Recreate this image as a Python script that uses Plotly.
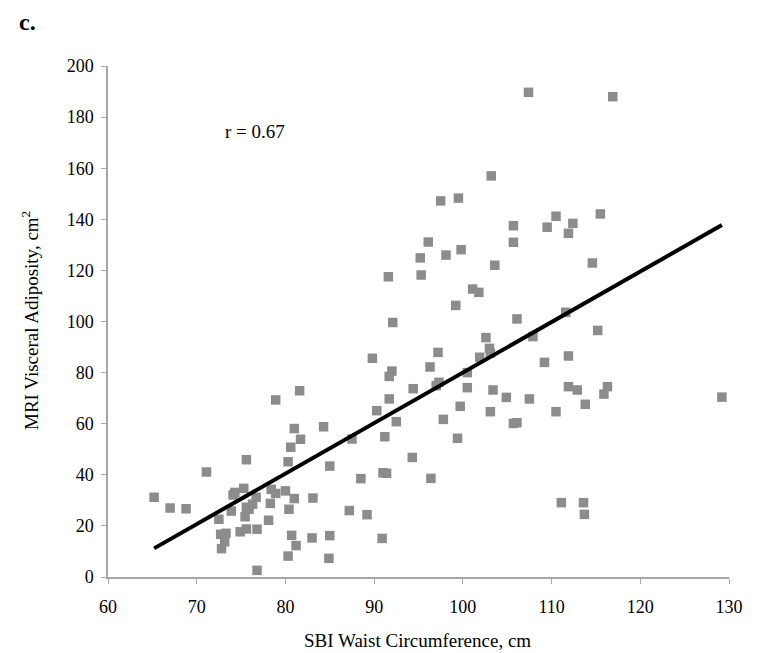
import numpy as np
import plotly.graph_objects as go

# SBI waist circumference (cm) and MRI visceral adiposity (cm^2)
waist = [
    65.2, 67.0, 68.8, 71.1, 75.6, 78.9, 81.6, 84.3, 81.0, 81.7,
    80.6, 80.3, 85.0, 74.1, 74.3, 75.3, 76.7, 76.3, 75.6, 75.9,
    75.45, 73.9, 72.5, 78.4, 78.9, 78.3, 80.0, 81.0, 83.1, 80.4,
    78.1, 76.8, 75.6, 74.9, 73.3, 72.7, 73.15, 72.8, 80.7, 83.0,
    81.2, 80.3, 76.8, 85.0, 84.9,
    94.4, 97.0, 100.5, 103.4, 91.7, 90.3, 92.5, 99.7, 103.1, 97.8,
    87.5, 91.2, 99.4, 94.3, 88.5, 91.0, 91.4, 96.4, 87.2, 89.2, 90.9,
    103.2, 97.5, 99.5, 105.7, 105.7, 96.1, 95.2, 98.1, 99.8, 103.6,
    91.6, 95.3, 101.1, 101.8, 99.2, 92.1, 106.1, 102.6, 103.0, 103.1,
    101.9, 97.2, 89.8, 96.3, 92.0, 91.7, 100.5, 97.3,
    104.9, 107.5, 105.7, 106.1, 110.5, 111.9, 112.9, 113.8, 116.3, 115.9,
    129.2, 111.1, 113.6, 113.7,
    107.4, 116.9, 110.5, 109.5, 112.4, 111.9, 115.5, 114.6, 111.6, 107.9,
    115.2, 109.2, 111.9,
]
vat = [
    31.2, 27.0, 26.7, 41.1, 45.9, 69.3, 72.9, 58.8, 58.1, 53.9,
    50.8, 45.1, 43.4, 32.1, 33.1, 34.7, 31.2, 28.5, 27.3, 26.5,
    23.6, 25.8, 22.6, 34.3, 32.7, 28.8, 33.7, 30.7, 30.9, 26.5,
    22.2, 18.7, 18.8, 17.7, 17.1, 16.7, 13.8, 11.1, 16.3, 15.3,
    12.3, 8.2, 2.6, 16.2, 7.3,
    73.7, 74.9, 74.1, 73.2, 69.7, 65.1, 60.8, 66.8, 64.7, 61.7,
    54.0, 54.9, 54.3, 46.8, 38.5, 40.8, 40.6, 38.6, 26.0, 24.4, 15.1,
    157.0, 147.2, 148.3, 137.5, 131.0, 131.1, 124.9, 126.0, 128.1, 122.0,
    117.5, 118.2, 112.7, 111.4, 106.3, 99.6, 101.0, 93.7, 89.5, 87.6,
    86.0, 87.9, 85.6, 82.2, 80.6, 78.5, 80.0, 76.2,
    70.3, 69.7, 60.1, 60.4, 64.7, 74.5, 73.2, 67.6, 74.5, 71.6,
    70.4, 29.1, 29.1, 24.5,
    189.7, 188.0, 141.2, 136.9, 138.4, 134.5, 142.1, 122.9, 103.6, 94.1,
    96.5, 84.0, 86.5,
]

x_ticks = [60, 70, 80, 90, 100, 110, 120, 130]
y_ticks = [0, 20, 40, 60, 80, 100, 120, 140, 160, 180, 200]

# least-squares trendline spanning the data range
xa = np.array(waist)
ya = np.array(vat)
slope, intercept = np.polyfit(xa, ya, 1)
fit_x = [xa.min(), xa.max()]
fit_y = [slope * v + intercept for v in fit_x]

serif = "Liberation Serif"
axis_grey = "#a6a6a6"

fig = go.Figure()
fig.add_trace(go.Scatter(
    x=waist, y=vat, mode="markers",
    marker=dict(symbol="square", size=9.5, color="#8c8c8c"),
    showlegend=False, hoverinfo="x+y",
))
fig.add_trace(go.Scatter(
    x=fit_x, y=fit_y, mode="lines",
    line=dict(color="black", width=4),
    showlegend=False, hoverinfo="skip",
))

fig.update_layout(
    width=756, height=645,
    margin=dict(l=100, r=35, t=58, b=76),
    paper_bgcolor="white", plot_bgcolor="white",
    font=dict(family=serif, size=18, color="black"),
    xaxis=dict(
        range=[60, 130], tickvals=x_ticks, ticktext=[str(v) for v in x_ticks],
        showgrid=False, zeroline=False, showline=True, linecolor=axis_grey,
        linewidth=1.5, ticks="outside", ticklen=5, tickcolor=axis_grey,
        ticklabelstandoff=8,
        tickfont=dict(family=serif, size=18, color="black"),
    ),
    yaxis=dict(
        range=[0, 200], tickvals=y_ticks, ticktext=[str(v) for v in y_ticks],
        showgrid=False, zeroline=False, showline=True, linecolor=axis_grey,
        linewidth=1.5, ticks="outside", ticklen=5, tickcolor=axis_grey,
        ticklabelstandoff=4,
        tickfont=dict(family=serif, size=18, color="black"),
    ),
    annotations=[
        dict(text="SBI Waist Circumference, cm", xref="paper", yref="paper",
             x=0.499, y=-0.1233, xanchor="center", yanchor="middle",
             showarrow=False, font=dict(family=serif, size=19, color="black")),
        dict(text="MRI Visceral Adiposity, cm<sup>2</sup>", xref="paper", yref="paper",
             x=-0.1256, y=0.501, xanchor="center", yanchor="middle",
             textangle=-90, showarrow=False, font=dict(family=serif, size=19, color="black")),
        dict(text="r = 0.67", xref="x", yref="y", x=73.0, y=174.2,
             xanchor="left", yanchor="middle", showarrow=False,
             font=dict(family=serif, size=19, color="black")),
        dict(text="<b>c.</b>", xref="paper", yref="paper",
             x=-90 / 621, y=569 / 511, xanchor="left", yanchor="top",
             showarrow=False, borderpad=0, font=dict(family=serif, size=24, color="black")),
    ],
)

fig.write_html("out.html")
